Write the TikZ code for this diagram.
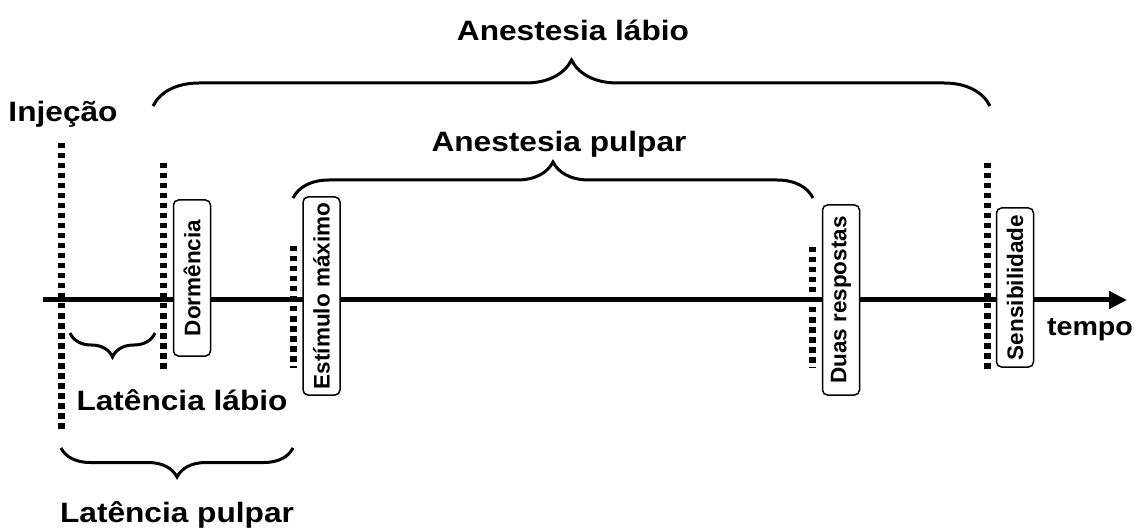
\documentclass[tikz,border=0pt]{standalone}
\usepackage{fontspec}
\setmainfont{Liberation Sans}
\usetikzlibrary{decorations.pathreplacing,arrows.meta}
\begin{document}
\begin{tikzpicture}[x=1pt,y=-1pt,
  lbl/.style={font=\fontsize{28}{28}\selectfont\bfseries, xscale=1.13, inner sep=0pt, anchor=base},
  evbox/.style={draw, fill=white, line width=1.5pt, rounded corners=5pt, rotate=90, minimum height=37pt, inner sep=0pt, font=\fontsize{22.5}{22.5}\selectfont\bfseries},
  markline/.style={line width=7pt, line cap=butt, dash pattern=on 5.5pt off 4.5pt},
  brc/.style={decorate, decoration={brace, amplitude=#1}, line width=3pt},
  axisline/.style={line width=5pt, -{Triangle[length=18pt,width=17pt]}}
]
\useasboundingbox (0,0) rectangle (1135,529);
% axis
\coordinate (ax-s) at (43,300);
\coordinate (ax-e) at (1127,300);
\draw[axisline] (ax-s) -- (ax-e);
% dotted markers
\coordinate (inj-t) at (61,143);  \coordinate (inj-b) at (61,430);
\coordinate (dor-t) at (163,163); \coordinate (dor-b) at (163,372);
\coordinate (est-t) at (293,246); \coordinate (est-b) at (293,368);
\coordinate (dua-t) at (812,247); \coordinate (dua-b) at (812,368);
\coordinate (sen-t) at (987,163); \coordinate (sen-b) at (987,372);
\draw[markline] (inj-t) -- (inj-b);
\draw[markline] (dor-t) -- (dor-b);
\draw[markline] (est-t) -- (est-b);
\draw[markline] (dua-t) -- (dua-b);
\draw[markline] (sen-t) -- (sen-b);
% event boxes
\node[evbox, minimum width=156pt] (dorm) at (192,278) {Dormência};
\node[evbox, minimum width=198pt] (estim) at (321.5,296) {Estímulo máximo};
\node[evbox, minimum width=190pt] (duas) at (841,300) {Duas respostas};
\node[evbox, minimum width=159pt] (sens) at (1015,287.5) {Sensibilidade};
% braces
\coordinate (al-l) at (153,106); \coordinate (al-r) at (990,106);
\draw[brc=46pt] (al-l) -- (al-r);
\coordinate (ap-l) at (293,198); \coordinate (ap-r) at (813,198);
\draw[brc=36pt] (ap-l) -- (ap-r);
\coordinate (ll-l) at (70,333); \coordinate (ll-r) at (155,333);
\draw[brc=24pt] (ll-r) -- (ll-l);
\coordinate (lp-l) at (61,448); \coordinate (lp-r) at (293,448);
\draw[brc=29pt] (lp-r) -- (lp-l);
% labels
\node[lbl] (t-al) at (573,41) {Anestesia lábio};
\node[lbl] (t-ap) at (559,152) {Anestesia pulpar};
\node[lbl] (t-inj) at (63,122) {Injeção};
\node[lbl] (t-ll) at (182,410) {Latência lábio};
\node[lbl] (t-lp) at (177,522) {Latência pulpar};
\node[lbl, font=\fontsize{26}{26}\selectfont\bfseries, xscale=0.975] (t-tempo) at (1090,335) {tempo};
\end{tikzpicture}
\end{document}
